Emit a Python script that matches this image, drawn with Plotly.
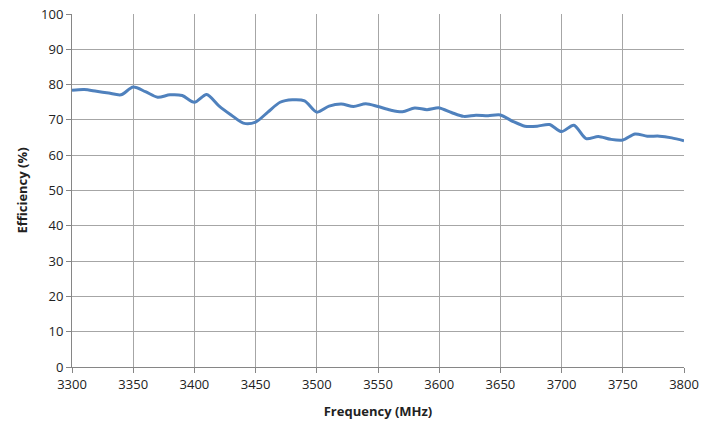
import plotly.graph_objects as go

freq = [3300, 3310, 3320, 3330, 3340, 3350, 3360, 3370, 3380, 3390,
        3400, 3410, 3420, 3430, 3440, 3450, 3460, 3470, 3480, 3490,
        3500, 3510, 3520, 3530, 3540, 3550, 3560, 3570, 3580, 3590,
        3600, 3610, 3620, 3630, 3640, 3650, 3660, 3670, 3680, 3690,
        3700, 3710, 3720, 3730, 3740, 3750, 3760, 3770, 3780, 3790, 3800]
efficiency = [78.4, 78.6, 78.1, 77.6, 77.1, 79.3, 78.0, 76.4, 77.1, 76.9,
              75.0, 77.2, 74.0, 71.4, 69.1, 69.4, 72.2, 75.0, 75.7, 75.4,
              72.2, 73.9, 74.5, 73.8, 74.6, 73.8, 72.8, 72.3, 73.4, 72.9,
              73.4, 72.1, 71.0, 71.3, 71.2, 71.4, 69.6, 68.2, 68.2, 68.7,
              66.7, 68.5, 64.7, 65.3, 64.5, 64.3, 66.0, 65.4, 65.4, 64.9, 64.1]

font_name = "Open Sans, Liberation Sans, sans-serif"

fig = go.Figure()
fig.add_trace(go.Scatter(x=freq, y=efficiency, mode="lines",
                         line=dict(color="#4F81BD", width=3, shape="spline", smoothing=0.8),
                         showlegend=False))

fig.update_layout(
    width=718, height=421,
    margin=dict(l=72, r=34, t=14, b=54, autoexpand=False),
    paper_bgcolor="white", plot_bgcolor="white",
    font=dict(family=font_name, size=13, color="#222222"),
)
fig.update_xaxes(range=[3300, 3800], tick0=3300, dtick=50, automargin=False,
                 showgrid=True, gridcolor="#A6A6A6", gridwidth=1,
                 showline=True, linecolor="#868686", linewidth=1,
                 ticks="outside", ticklen=5, tickcolor="#868686",
                 zeroline=False,
                 title=dict(text="<b>Frequency (MHz)</b>", font=dict(size=13), standoff=15))
fig.update_yaxes(range=[0, 100], tick0=0, dtick=10, automargin=False,
                 showgrid=True, gridcolor="#A6A6A6", gridwidth=1,
                 showline=True, linecolor="#868686", linewidth=1,
                 ticks="outside", ticklen=5, tickcolor="#868686",
                 zeroline=False,
                 title=dict(text="<b>Efficiency (%)</b>", font=dict(size=13), standoff=10))

# drop the browser's default 8px body margin so the figure sits at the page corner
fig.write_html("out.html", config={"displayModeBar": False},
               post_script="document.body.style.margin='0';")
